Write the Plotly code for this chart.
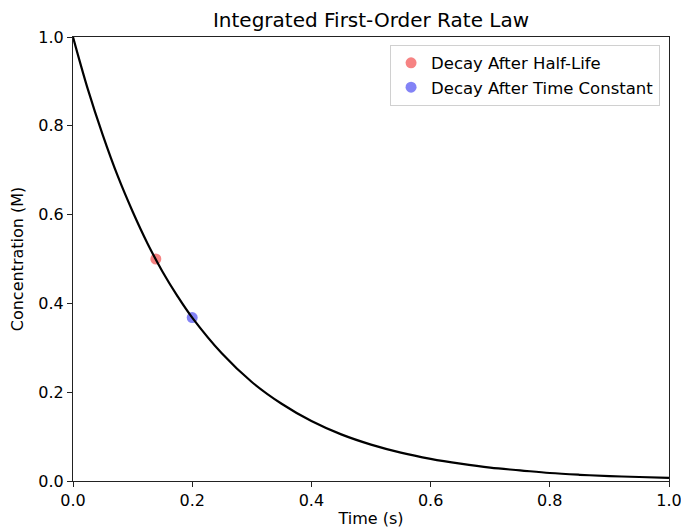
import plotly.graph_objects as go

# Curve values
time_s = [0.0, 0.025, 0.05, 0.075, 0.1, 0.125, 0.15, 0.175, 0.2, 0.25, 0.3, 0.35, 0.4, 0.45, 0.5,
          0.55, 0.6, 0.65, 0.7, 0.75, 0.8, 0.85, 0.9, 0.95, 1.0]
conc_M = [1.0, 0.882, 0.779, 0.687, 0.607, 0.535, 0.472, 0.417, 0.368, 0.287, 0.223, 0.174, 0.135,
          0.105, 0.082, 0.064, 0.050, 0.039, 0.030, 0.024, 0.018, 0.014, 0.011, 0.009, 0.007]

half_life_t = [0.139]
half_life_c = [0.5]
tau_t = [0.2]
tau_c = [0.368]

tick_vals = [0, 0.2, 0.4, 0.6, 0.8, 1.0]
tick_text = ["0.0", "0.2", "0.4", "0.6", "0.8", "1.0"]

font = "DejaVu Sans, sans-serif"

fig = go.Figure()
fig.add_trace(go.Scatter(x=half_life_t, y=half_life_c, mode="markers", name="Decay After Half-Life",
                         marker=dict(color="rgba(239,30,30,0.55)", size=11)))
fig.add_trace(go.Scatter(x=tau_t, y=tau_c, mode="markers", name="Decay After Time Constant",
                         marker=dict(color="rgba(30,30,239,0.55)", size=11)))
fig.add_trace(go.Scatter(x=time_s, y=conc_M, mode="lines", showlegend=False,
                         line=dict(color="black", width=2.2, shape="spline")))

axis_common = dict(showgrid=False, zeroline=False, showline=True, linecolor="#222", linewidth=1.2,
                   mirror=True, ticks="outside", ticklen=5, tickwidth=1.2, tickcolor="#222",
                   automargin=False, ticklabeloverflow="allow",
                   tickfont=dict(family=font, size=16, color="black"))

fig.update_layout(
    width=681, height=528,
    margin=dict(l=73, r=12, t=37, b=47),
    paper_bgcolor="white", plot_bgcolor="white",
    font=dict(family=font, size=16, color="black"),
    title=dict(text="Integrated First-Order Rate Law", xref="paper", x=0.5, xanchor="center",
               y=0.962, yanchor="middle", font=dict(family=font, size=20, color="black")),
    xaxis=dict(range=[0, 1], tickvals=tick_vals, ticktext=tick_text,
               title=dict(text="Time (s)", standoff=4, font=dict(family=font, size=16)), **axis_common),
    yaxis=dict(range=[0, 1], tickvals=tick_vals, ticktext=tick_text,
               title=dict(text="Concentration (M)", standoff=10, font=dict(family=font, size=16)), **axis_common),
    legend=dict(x=0.985, y=0.983, xanchor="right", yanchor="top", bgcolor="rgba(255,255,255,0.8)",
                bordercolor="#d0d0d0", borderwidth=1, font=dict(family=font, size=16.5)),
)

fig.write_html("out.html", config={"displayModeBar": False},
               post_script="document.body.style.margin='0';")
